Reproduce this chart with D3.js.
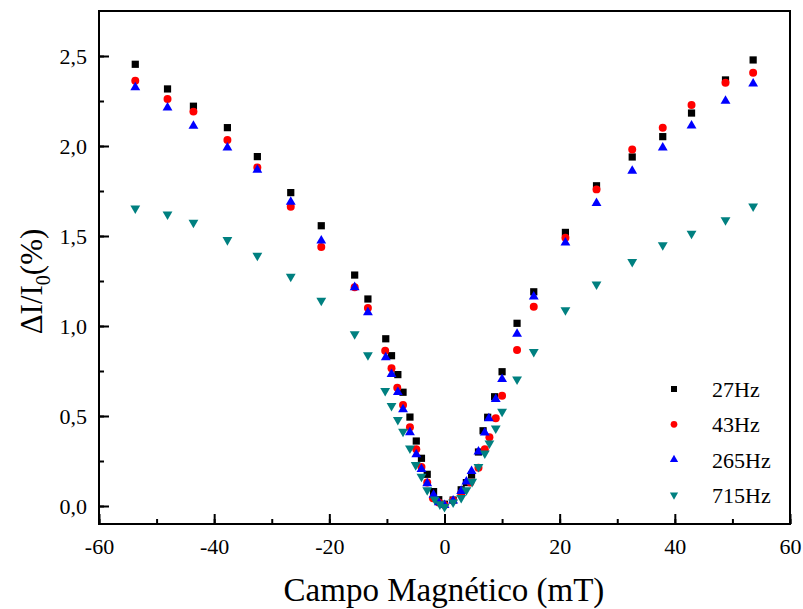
<!DOCTYPE html>
<html>
<head>
<meta charset="utf-8">
<script src="https://cdn.jsdelivr.net/npm/d3@7"></script>
<style>
  body { margin: 0; background: #fff; }
  svg text { font-family: "Liberation Serif", "Times New Roman", Times, "DejaVu Serif", serif; fill: #000; }
</style>
</head>
<body>
<div id="chart"></div>
<script>
// campo (mT) e ΔI/I0 (%), uma série por frequência
const b27 = [-53.7,-48.1,-43.6,-37.7,-32.5,-26.7,-21.4,-15.6,-13.3,-10.2,-9.2,-8.1,-7.2,-6.0,-4.9,-4.0,-3.0,-1.9,-1.0,0.0,1.5,2.9,3.8,4.7,5.9,6.7,7.5,8.7,10.0,12.6,15.5,21.0,26.4,32.6,37.9,42.9,48.8,53.6];
const v27 = [2.454,2.317,2.221,2.102,1.941,1.741,1.557,1.283,1.150,0.929,0.835,0.730,0.632,0.494,0.361,0.265,0.176,0.080,0.035,0.010,0.033,0.090,0.130,0.172,0.300,0.418,0.493,0.607,0.746,1.015,1.190,1.520,1.779,1.939,2.052,2.183,2.367,2.478];

const b43 = [-53.7,-48.1,-43.6,-37.7,-32.5,-26.7,-21.4,-15.6,-13.3,-10.3,-9.2,-8.2,-7.2,-6.0,-4.9,-4.0,-3.0,-2.0,-1.0,0.0,1.5,2.9,4.5,5.9,7.0,7.8,8.9,10.0,12.6,15.5,21.0,26.4,32.6,37.9,42.9,48.8,53.6];
const v43 = [2.363,2.261,2.191,2.033,1.881,1.663,1.439,1.215,1.100,0.863,0.765,0.657,0.561,0.437,0.315,0.217,0.130,0.043,0.020,0.005,0.030,0.070,0.130,0.213,0.315,0.382,0.487,0.613,0.867,1.107,1.490,1.759,1.980,2.102,2.228,2.352,2.407];

const b265 = [-53.7,-48.1,-43.6,-37.7,-32.5,-26.7,-21.4,-15.6,-13.3,-10.2,-9.2,-8.1,-7.2,-6.0,-4.9,-4.0,-3.0,-1.9,-1.0,0.0,1.5,2.9,3.8,4.7,5.9,7.0,7.7,8.9,10.0,12.6,15.5,21.0,26.4,32.6,37.9,42.9,48.8,53.6];
const v265 = [2.326,2.213,2.111,1.991,1.867,1.689,1.474,1.215,1.076,0.826,0.732,0.632,0.537,0.409,0.287,0.204,0.126,0.061,0.020,0.005,0.030,0.083,0.135,0.194,0.302,0.407,0.487,0.593,0.704,0.956,1.163,1.463,1.682,1.861,1.991,2.113,2.250,2.346];

const b715 = [-53.7,-48.1,-43.6,-37.7,-32.5,-26.7,-21.4,-15.6,-13.3,-10.3,-9.2,-8.1,-7.2,-6.0,-5.0,-4.0,-3.0,-1.7,-0.8,0.0,1.5,2.9,3.8,4.8,5.9,7.0,7.8,8.9,10.0,12.6,15.5,21.0,26.4,32.6,37.9,42.9,48.8,53.6];
const v715 = [1.654,1.620,1.574,1.478,1.391,1.274,1.141,0.955,0.839,0.640,0.557,0.479,0.413,0.320,0.228,0.163,0.089,0.037,0.010,-0.005,0.020,0.046,0.089,0.135,0.218,0.293,0.348,0.432,0.524,0.704,0.857,1.089,1.232,1.357,1.450,1.513,1.589,1.665];

const seriesNames = ["27Hz", "43Hz", "265Hz", "715Hz"];
const xTicks = [-60, -40, -20, 0, 20, 40, 60];
const yTicks = [0, 0.5, 1.0, 1.5, 2.0, 2.5];

const W = 803, H = 609;
const mLeft = 99, mRight = 790, mTop = 11, mBottom = 524;
const FONT = "'Liberation Serif', 'Times New Roman', Times, 'DejaVu Serif', serif";

const series = [
  {name: seriesNames[0], b: b27,  v: v27,  color: "#000000", shape: d3.symbolSquare,   size: 52},
  {name: seriesNames[1], b: b43,  v: v43,  color: "#ff0000", shape: d3.symbolCircle,   size: 50},
  {name: seriesNames[2], b: b265, v: v265, color: "#0000ff", shape: d3.symbolTriangle, size: 42},
  {name: seriesNames[3], b: b715, v: v715, color: "#008080", shape: d3.symbolTriangle, size: 42, flip: true}
];

const svg = d3.select("#chart").append("svg")
  .attr("width", W)
  .attr("height", H)
  .attr("font-family", FONT);

const x = d3.scaleLinear().domain([-60, 60]).range([mLeft, mRight]);
const y = d3.scaleLinear().domain([-0.1, 2.75]).range([mBottom, mTop]);

// eixo x (ticks para dentro)
const gx = svg.append("g").attr("transform", `translate(0,${mBottom})`);
gx.call(d3.axisBottom(x).tickValues(d3.range(-60, 61, 10)).tickSize(-5).tickFormat(""));
gx.select(".domain").remove();
const gx2 = svg.append("g").attr("transform", `translate(0,${mBottom})`);
gx2.call(d3.axisBottom(x).tickValues(xTicks).tickSize(-10).tickPadding(14).tickFormat(d3.format("d")));
gx2.select(".domain").remove();
gx2.selectAll("text").attr("font-size", 22)
  .text(d => d < 0 ? "-" + Math.abs(d) : d);

// eixo y
const gy = svg.append("g").attr("transform", `translate(${mLeft},0)`);
gy.call(d3.axisLeft(y).tickValues(d3.range(0, 2.6, 0.25)).tickSize(-5).tickFormat(""));
gy.select(".domain").remove();
const gy2 = svg.append("g").attr("transform", `translate(${mLeft},0)`);
gy2.call(d3.axisLeft(y).tickValues(yTicks).tickSize(-10).tickPadding(12)
  .tickFormat(d => d3.format(".1f")(d).replace(".", ",")));
gy2.select(".domain").remove();
gy2.selectAll("text").attr("font-size", 22);

svg.selectAll("g").attr("font-family", FONT);
svg.selectAll(".tick line").attr("stroke", "#000").attr("stroke-width", 2);
svg.selectAll(".tick text").attr("fill", "#000");

// moldura
svg.append("rect")
  .attr("x", mLeft).attr("y", mTop)
  .attr("width", mRight - mLeft).attr("height", mBottom - mTop)
  .attr("fill", "none").attr("stroke", "#000").attr("stroke-width", 2);

// pontos
series.forEach(s => {
  const sym = d3.symbol().type(s.shape).size(s.size);
  svg.append("g").selectAll("path")
    .data(s.b.map((b, i) => [b, s.v[i]]))
    .enter().append("path")
    .attr("d", sym)
    .attr("fill", s.color)
    .attr("transform", d => `translate(${x(d[0])},${y(d[1])})` + (s.flip ? " rotate(180)" : ""));
});

// legenda
const leg = svg.append("g");
series.forEach((s, i) => {
  const ly = 389 + i * 35.3;
  leg.append("path")
    .attr("d", d3.symbol().type(s.shape).size(s.size * 0.7)())
    .attr("fill", s.color)
    .attr("transform", `translate(674,${ly})` + (s.flip ? " rotate(180)" : ""));
  leg.append("text")
    .attr("x", 712).attr("y", ly + 8)
    .attr("font-size", 22)
    .text(s.name);
});

// títulos dos eixos
svg.append("text")
  .attr("x", 444).attr("y", 601)
  .attr("text-anchor", "middle")
  .attr("font-size", 33)
  .text("Campo Magnético (mT)");

const yl = svg.append("text")
  .attr("transform", `translate(42,${(mTop + mBottom) / 2 + 14}) rotate(-90)`)
  .attr("text-anchor", "middle")
  .attr("font-size", 31);
yl.append("tspan").text("ΔI/I");
yl.append("tspan").attr("font-size", 20).attr("dy", 8).text("0");
yl.append("tspan").attr("dy", -8).text("(%)");
</script>
</body>
</html>
